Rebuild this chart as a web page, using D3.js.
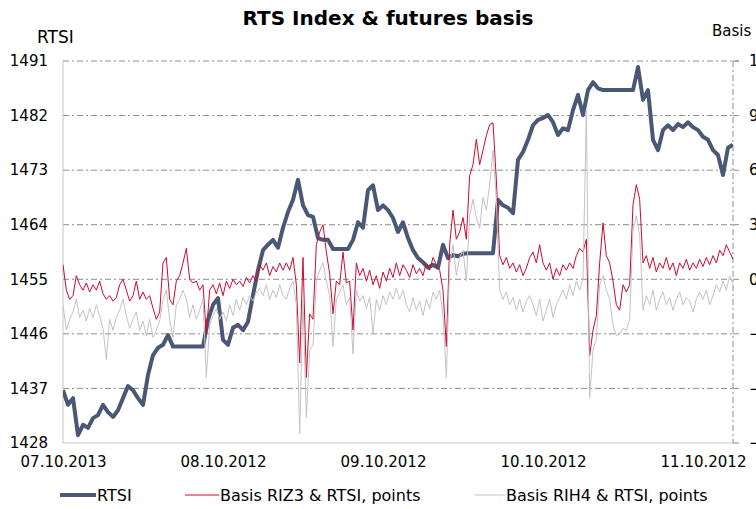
<!DOCTYPE html>
<html><head><meta charset="utf-8">
<script src="https://cdn.jsdelivr.net/npm/d3@7"></script>
<style>body{margin:0;background:#fff}svg{display:block}text{font-family:"DejaVu Sans",Verdana,sans-serif;fill:#000}</style>
</head><body><svg id="c" width="756" height="509"></svg>
<script>
const dateLabels = ["07.10.2013","08.10.2012","09.10.2012","10.10.2012","11.10.2012"];
const rtsiTicks = [1428,1437,1446,1455,1464,1473,1482,1491];
const basisTicks = [-9,-6,-3,0,3,6,9,12];
const seriesNames = ["RTSI","Basis RIZ3 & RTSI, points","Basis RIH4 & RTSI, points"];
// RTSI, one value every 1/32 day
const rtsi = [1436.7,1434.3,1435.4,1429.3,1431.0,1430.5,1432.1,1432.6,1434.3,1433.1,
1432.3,1433.4,1435.4,1437.4,1436.7,1435.4,1434.3,1439.2,1442.5,1443.7,
1444.2,1445.8,1443.9,1443.9,1443.9,1443.9,1443.9,1443.9,1443.9,1448.3,
1450.8,1451.9,1445.0,1444.2,1447.0,1447.5,1446.6,1448.0,1452.4,1456.5,
1459.8,1460.7,1461.5,1460.2,1463.5,1466.1,1468.1,1471.4,1467.2,1465.6,
1465.3,1461.8,1461.5,1461.5,1460.0,1460.0,1460.0,1460.0,1461.5,1464.4,
1463.5,1469.7,1470.5,1466.4,1467.2,1466.4,1465.1,1462.8,1464.4,1461.8,
1459.8,1458.5,1457.8,1456.9,1457.4,1456.9,1460.7,1458.5,1459.0,1458.8,
1459.2,1459.3,1459.3,1459.3,1459.3,1459.3,1459.3,1468.1,1467.2,1466.8,
1465.9,1474.7,1476.0,1478.0,1480.4,1481.3,1481.6,1482.1,1480.9,1478.8,
1479.9,1479.6,1482.9,1485.4,1482.1,1486.2,1487.5,1486.5,1486.2,1486.2,
1486.2,1486.2,1486.2,1486.2,1486.2,1490.0,1484.6,1486.2,1478.0,1476.3,
1479.6,1480.4,1479.6,1480.6,1480.1,1480.9,1480.1,1479.6,1478.5,1478.0,
1476.3,1475.5,1472.2,1476.7,1477.2];
// Basis RIZ3 & RTSI, one value every 1/48 day
const basisRIZ3 = [0.8,-0.6,-1.1,-0.9,0.2,-0.3,-0.6,-0.2,-0.7,-0.3,
-0.6,-0.1,-0.8,-1.1,-0.9,-1.2,-1.0,-0.3,0.0,-0.6,
-1.2,-0.9,-0.1,-1.1,-0.7,-1.1,-0.9,-1.6,-2.2,-1.8,
0.9,1.2,-1.1,-1.4,-0.1,0.2,0.9,1.7,0.0,-0.2,
-0.1,-0.6,-0.3,-3.0,-0.6,-0.3,-0.8,-0.2,-0.9,-0.1,
-0.5,0.0,-0.3,-0.1,-0.4,0.1,-0.2,0.2,-0.1,0.8,
0.5,0.9,0.2,0.7,0.4,0.9,0.5,0.9,0.5,1.2,
-0.3,-4.6,1.2,-5.4,-1.9,-2.2,1.9,2.6,3.0,1.5,
0.3,-1.9,-0.1,-0.3,1.5,-0.2,-0.1,-2.8,0.9,0.2,
0.6,-0.1,0.5,-0.3,0.2,-0.5,0.4,-0.1,0.6,0.1,
0.9,0.2,0.8,0.5,0.1,0.8,0.3,0.6,0.2,0.9,
0.5,1.2,0.8,0.5,-0.6,-3.7,1.9,3.8,2.2,2.6,
3.4,2.2,5.7,6.3,7.7,6.3,7.1,7.9,8.5,8.6,
5.5,1.3,0.8,1.2,0.6,0.9,0.4,0.8,0.2,0.6,
1.2,1.5,0.9,1.9,0.9,0.5,0.9,0.0,0.6,0.2,
0.8,0.5,0.9,0.6,1.3,1.7,1.5,2.2,-4.2,-2.8,
-2.0,0.9,3.1,1.3,0.9,-0.1,-1.4,-1.7,-0.3,-0.7,
-0.3,4.1,5.2,4.4,0.9,1.3,0.6,1.2,0.4,0.9,
0.6,1.2,0.5,0.9,0.2,0.9,0.6,1.1,0.5,0.9,
0.6,1.1,0.7,1.2,0.8,1.3,0.9,1.6,1.3,1.9,
1.5,1.1];
// Basis RIH4 & RTSI, one value every 1/48 day
const basisRIH4 = [-1.4,-2.8,-2.2,-1.8,-1.1,-2.1,-1.7,-2.3,-1.6,-2.1,
-1.4,-2.0,-2.7,-4.4,-2.2,-2.8,-2.1,-1.7,-1.1,-2.0,
-2.7,-2.2,-1.8,-2.8,-2.3,-3.1,-2.2,-3.2,-2.8,-2.3,
-1.1,-0.6,-2.2,-3.2,-1.4,-1.1,-0.6,-1.1,-2.1,-1.4,
-2.2,-1.7,-1.1,-5.4,-2.5,-2.0,-1.6,-2.2,-1.8,-2.3,
-1.4,-2.0,-1.1,-1.7,-1.0,-1.4,-0.9,-1.2,-0.7,-0.5,
-0.9,-0.3,-1.1,-0.6,-1.0,-0.3,-0.9,-1.1,-0.5,-0.1,
-1.4,-8.5,-1.1,-7.6,-3.9,-3.6,-0.1,0.5,0.9,-0.1,
-0.9,-3.7,-1.1,-0.7,-0.3,-1.4,-1.0,-4.1,-0.6,-1.2,
-0.9,-1.6,-1.0,-3.0,-1.1,-1.7,-0.9,-1.4,-0.7,-1.1,
-0.5,-1.1,-0.6,-1.4,-1.8,-1.0,-1.7,-1.2,-2.0,-1.1,
-1.6,-0.7,-1.1,-0.6,-2.0,-5.4,0.8,1.9,0.2,1.2,
1.6,-0.1,3.5,4.4,3.4,2.8,4.5,3.8,5.2,7.1,
4.4,-0.6,-1.1,-0.7,-1.4,-1.0,-1.7,-1.1,-1.8,-1.2,
-0.9,-1.4,-2.0,-1.1,-2.3,-1.7,-1.1,-2.1,-1.4,-1.0,
-0.6,-1.1,-0.3,-0.9,-0.1,-0.6,0.0,9.3,-6.5,-3.9,
-3.3,-0.3,0.2,-0.6,-1.1,-2.5,-3.1,-3.0,-2.7,-2.8,
-2.2,2.7,3.5,2.4,-1.7,-0.9,-1.4,-0.6,-1.7,-1.1,
-0.7,-1.4,-1.0,-1.7,-1.1,-0.7,-1.4,-1.0,-1.2,-1.8,
-1.1,-0.7,-1.1,-0.6,-1.4,-0.9,-0.3,-0.7,-0.1,-0.6,
0.2,-0.3];

const L = 63, R = 733, T = 61, B = 443;
const svg = d3.select("#c");
const x = d3.scaleLinear().domain([0, 4.1875]).range([L, R]);
const yL = d3.scaleLinear().domain([1428, 1491]).range([B, T]);
const yR = d3.scaleLinear().domain([-9, 12]).range([B, T]);

// grid
svg.append("g").selectAll("line").data(rtsiTicks.filter(d => d > 1428)).join("line")
  .attr("x1", L).attr("x2", d => d === 1491 ? R + 6 : R).attr("y1", d => yL(d)).attr("y2", d => yL(d))
  .attr("stroke", "#8c8c8c").attr("stroke-width", 1).attr("stroke-dasharray", "6,3,2,3");
// right axis (dash-dot)
svg.append("line").attr("x1", R).attr("x2", R).attr("y1", T).attr("y2", B)
  .attr("stroke", "#8c8c8c").attr("stroke-dasharray", "6,3,2,3");
// right tick marks
svg.append("g").selectAll("line").data(basisTicks).join("line")
  .attr("x1", R).attr("x2", R + 6).attr("y1", d => yR(d)).attr("y2", d => yR(d)).attr("stroke", "#8c8c8c");
// left & bottom axis lines
svg.append("line").attr("x1", L).attr("x2", L).attr("y1", T).attr("y2", B).attr("stroke", "#c4c4c4");
svg.append("line").attr("x1", L).attr("x2", R).attr("y1", B).attr("y2", B).attr("stroke", "#c4c4c4");

// axes labels
const yAxisL = d3.axisLeft(yL).tickValues(rtsiTicks).tickSize(0).tickPadding(15).tickFormat(d3.format("d"));
const gL = svg.append("g").attr("transform", `translate(${L},0)`).call(yAxisL);
gL.select(".domain").remove();
gL.selectAll("text").attr("font-size", 15).attr("font-family", "DejaVu Sans").attr("fill", "#000");

const yAxisR = d3.axisRight(yR).tickValues(basisTicks).tickSize(0).tickPadding(16).tickFormat(d3.format("d"));
const gR = svg.append("g").attr("transform", `translate(${R},0)`).call(yAxisR);
gR.select(".domain").remove();
gR.selectAll("text").attr("font-size", 15).attr("font-family", "DejaVu Sans").attr("fill", "#000");

const xAxis = d3.axisBottom(x).tickValues(d3.range(dateLabels.length)).tickSize(0).tickPadding(13)
  .tickFormat(i => dateLabels[i]);
const gX = svg.append("g").attr("transform", `translate(0,${B})`).call(xAxis);
gX.select(".domain").remove();
gX.selectAll("text").attr("font-size", 15).attr("font-family", "DejaVu Sans").attr("fill", "#000");

// lines
svg.append("clipPath").attr("id", "pc").append("rect")
  .attr("x", L).attr("y", T - 3).attr("width", R - L).attr("height", B - T + 3);
const lineL = d3.line().x((d, i) => x(i / 32)).y(d => yL(d));
const lineR = d3.line().x((d, i) => x(i / 48)).y(d => yR(d));
const pg = svg.append("g").attr("clip-path", "url(#pc)");
pg.append("path").datum(rtsi).attr("d", lineL).attr("fill", "none")
  .attr("stroke", "#4a5875").attr("stroke-width", 4).attr("stroke-linejoin", "round");
pg.append("path").datum(basisRIZ3).attr("d", lineR).attr("fill", "none")
  .attr("stroke", "#cc0a2f").attr("stroke-width", 1);
pg.append("path").datum(basisRIH4).attr("d", lineR).attr("fill", "none")
  .attr("stroke", "#c3c3c3").attr("stroke-width", 1);

// titles
svg.append("text").attr("x", 388).attr("y", 25).attr("text-anchor", "middle")
  .attr("font-size", 20).attr("font-weight", "bold").text("RTS Index & futures basis");
svg.append("text").attr("x", 37).attr("y", 43).attr("font-size", 17).text("RTSI");
svg.append("text").attr("x", 712).attr("y", 36).attr("font-size", 15).text("Basis");

// legend
const leg = [
  {n: seriesNames[0], c: "#4a5875", w: 4, x1: 60, x2: 96},
  {n: seriesNames[1], c: "#cc0a2f", w: 1, x1: 185, x2: 219},
  {n: seriesNames[2], c: "#c3c3c3", w: 1, x1: 475, x2: 505}
];
const lg = svg.append("g");
leg.forEach(d => {
  lg.append("line").attr("x1", d.x1).attr("x2", d.x2).attr("y1", 495).attr("y2", 495)
    .attr("stroke", d.c).attr("stroke-width", d.w);
  lg.append("text").attr("x", d.x2 + 1).attr("y", 501).attr("font-size", 16).text(d.n);
});
</script></body></html>
